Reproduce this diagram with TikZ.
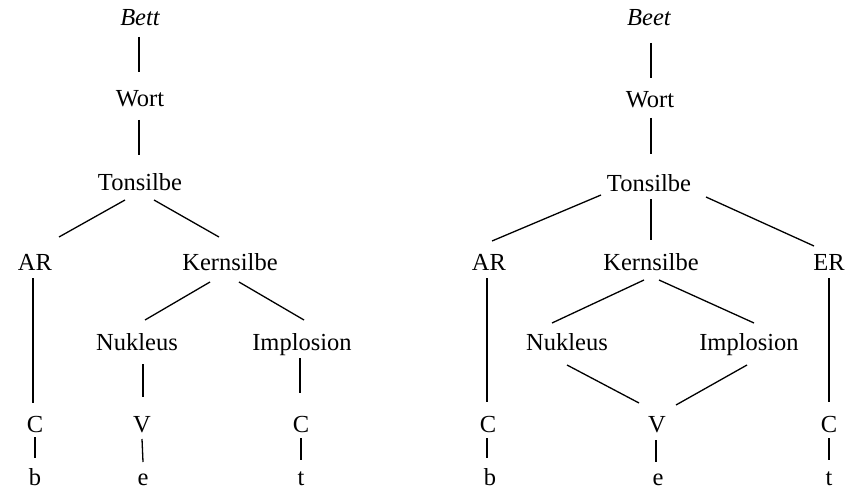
\documentclass[tikz,border=0pt]{standalone}
\usepackage{fontspec}
\setmainfont{Liberation Serif}
\usetikzlibrary{calc}
\tikzset{
  lbl/.style={anchor=base, inner sep=0pt, font=\fontsize{24.5}{28}\selectfont},
  wrd/.style={lbl, font=\fontsize{24.5}{28}\selectfont\itshape},
  edge/.style={line width=1.3pt}
}
\begin{document}
\begin{tikzpicture}[x=1pt,y=-1pt]
\useasboundingbox (0,0) rectangle (848,489);

% ---------- tree for "Bett" ----------
\node[wrd] (bettL) at (140,26) {Bett};
\node[lbl] (wortL) at (140,107) {Wort};
\node[lbl] (tonL)  at (140,190) {Tonsilbe};
\node[lbl] (arL)   at (35,270)  {AR};
\node[lbl] (kernL) at (230,270) {Kernsilbe};
\node[lbl] (nukL)  at (137,350) {Nukleus};
\node[lbl] (impL)  at (302,350) {Implosion};
\node[lbl] (cL1)   at (35,432)  {C};
\node[lbl] (vL)    at (142,432) {V};
\node[lbl] (cL2)   at (301,432) {C};
\node[lbl] (bL)    at (35,485)  {b};
\node[lbl] (eL)    at (143,485) {e};
\node[lbl] (tL)    at (301,485) {t};

\draw[edge] ($(bettL.base)+(-1,11)$) -- ($(wortL.base)+(-1,-35)$);
\draw[edge] ($(wortL.base)+(-1,13)$) -- ($(tonL.base)+(-1,-35)$);
\draw[edge] ($(tonL.base)+(-15,10)$) -- ($(arL.base)+(24,-33)$);
\draw[edge] ($(tonL.base)+(14,10)$) -- ($(kernL.base)+(-11,-33)$);
\draw[edge] ($(arL.base)+(-2,8)$) -- ($(cL1.base)+(-2,-29)$);
\draw[edge] ($(kernL.base)+(-20,12)$) -- ($(nukL.base)+(8,-30)$);
\draw[edge] ($(kernL.base)+(9,12)$) -- ($(impL.base)+(2,-30)$);
\draw[edge] ($(nukL.base)+(6,14)$) -- ($(vL.base)+(1,-35)$);
\draw[edge] ($(impL.base)+(-2,8)$) -- ($(cL2.base)+(-1,-39)$);
\draw[edge] ($(cL1.base)+(0,5)$) -- ($(bL.base)+(0,-27)$);
\draw[edge] ($(vL.base)+(0,7)$) -- ($(eL.base)+(0,-23)$);
\draw[edge] ($(cL2.base)+(0,6)$) -- ($(tL.base)+(0,-25)$);

% ---------- tree for "Beet" ----------
\node[wrd] (beetR) at (649,26)  {Beet};
\node[lbl] (wortR) at (650,108) {Wort};
\node[lbl] (tonR)  at (649,192) {Tonsilbe};
\node[lbl] (arR)   at (489,270) {AR};
\node[lbl] (kernR) at (651,270) {Kernsilbe};
\node[lbl] (erR)   at (829,270) {ER};
\node[lbl] (nukR)  at (567,350) {Nukleus};
\node[lbl] (impR)  at (749,350) {Implosion};
\node[lbl] (cR1)   at (488,432) {C};
\node[lbl] (vR)    at (657,432) {V};
\node[lbl] (cR2)   at (829,432) {C};
\node[lbl] (bR)    at (490,485) {b};
\node[lbl] (eR)    at (658,485) {e};
\node[lbl] (tR)    at (829,485) {t};

\draw[edge] ($(beetR.base)+(2,17)$) -- ($(wortR.base)+(1,-30)$);
\draw[edge] ($(wortR.base)+(1,10)$) -- ($(tonR.base)+(2,-38)$);
\draw[edge] ($(tonR.base)+(-48,3)$) -- ($(arR.base)+(3,-29)$);
\draw[edge] ($(tonR.base)+(2,7)$) -- ($(kernR.base)+(0,-30)$);
\draw[edge] ($(tonR.base)+(57,5)$) -- ($(erR.base)+(-15,-24)$);
\draw[edge] ($(arR.base)+(-2,8)$) -- ($(cR1.base)+(-1,-30)$);
\draw[edge] ($(erR.base)+(0,8)$) -- ($(cR2.base)+(0,-30)$);
\draw[edge] ($(kernR.base)+(-7,10)$) -- ($(nukR.base)+(-15,-27)$);
\draw[edge] ($(kernR.base)+(8,10)$) -- ($(impR.base)+(5,-27)$);
\draw[edge] ($(nukR.base)+(0,15)$) -- ($(vR.base)+(-18,-29)$);
\draw[edge] ($(impR.base)+(-2,15)$) -- ($(vR.base)+(19,-27)$);
\draw[edge] ($(cR1.base)+(-1,6)$) -- ($(bR.base)+(-3,-27)$);
\draw[edge] ($(vR.base)+(-1,8)$) -- ($(eR.base)+(-2,-23)$);
\draw[edge] ($(cR2.base)+(0,6)$) -- ($(tR.base)+(0,-25)$);
\end{tikzpicture}
\end{document}
